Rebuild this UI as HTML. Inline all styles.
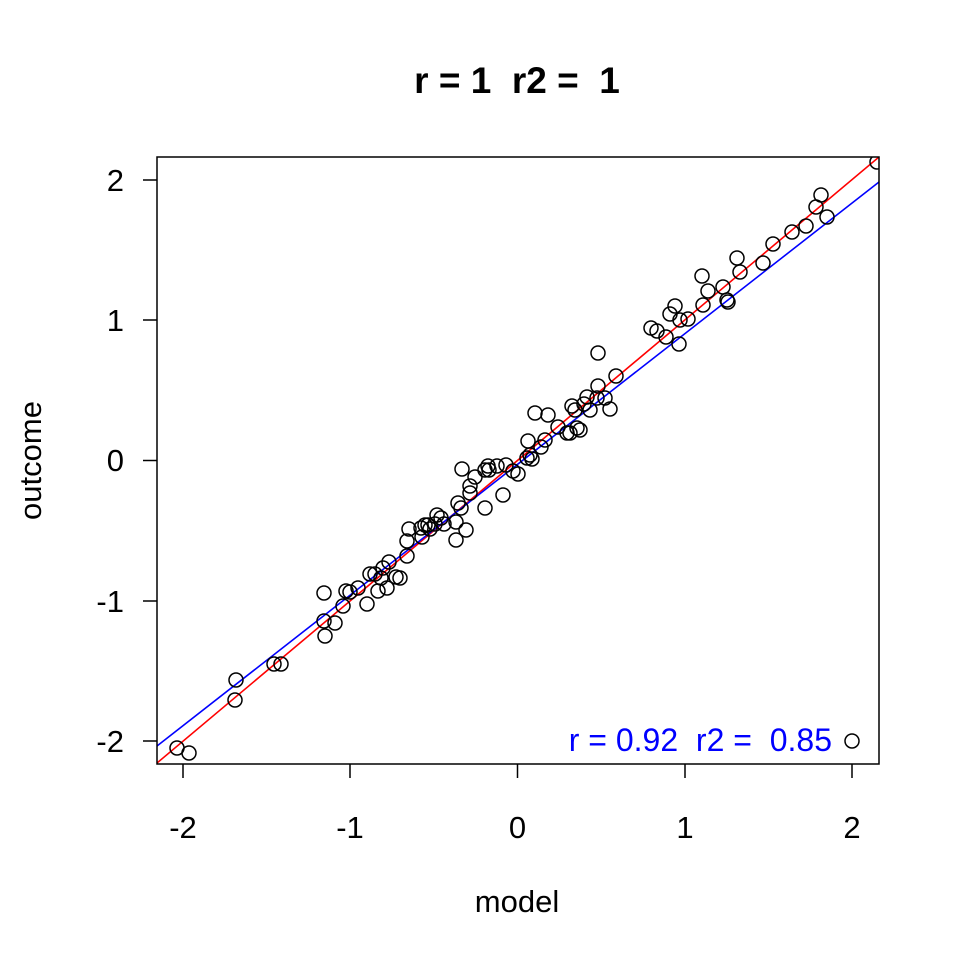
<!DOCTYPE html>
<html><head><style>body{margin:0;background:#fff}text{white-space:pre}</style></head><body>
<svg width="960" height="960" xmlns="http://www.w3.org/2000/svg" font-family="Liberation Sans, Arial, sans-serif" xml:space="preserve">
<rect width="960" height="960" fill="#fff"/>
<text x="517" y="93" text-anchor="middle" font-size="37" font-weight="bold">r = 1  r2 =  1</text>
<defs><clipPath id="c"><rect x="157" y="157" width="722" height="607"/></clipPath></defs>
<g clip-path="url(#c)">
<line x1="157" y1="763" x2="879" y2="157" stroke="#f00" stroke-width="1.6"/>
<line x1="157" y1="746" x2="879" y2="182" stroke="#00f" stroke-width="1.6"/>
<g fill="none" stroke="#000" stroke-width="1.5" id="pts"></g>
</g>
<rect x="157" y="157" width="722" height="607" fill="none" stroke="#000" stroke-width="1.5"/>
<g stroke="#000" stroke-width="1.5">
<line x1="183" y1="764" x2="183" y2="778"/><line x1="350" y1="764" x2="350" y2="778"/><line x1="517.5" y1="764" x2="517.5" y2="778"/><line x1="685" y1="764" x2="685" y2="778"/><line x1="852" y1="764" x2="852" y2="778"/>
<line x1="143" y1="180" x2="157" y2="180"/><line x1="143" y1="320" x2="157" y2="320"/><line x1="143" y1="460.5" x2="157" y2="460.5"/><line x1="143" y1="601" x2="157" y2="601"/><line x1="143" y1="741" x2="157" y2="741"/>
</g>
<g font-size="31" text-anchor="middle">
<text x="183" y="838">-2</text><text x="350" y="838">-1</text><text x="517.5" y="838">0</text><text x="685" y="838">1</text><text x="852" y="838">2</text>
<text x="517" y="912">model</text>
<g text-anchor="end"><text x="124" y="191">2</text><text x="124" y="331">1</text><text x="124" y="471">0</text><text x="124" y="612">-1</text><text x="124" y="752">-2</text></g>
<text transform="translate(41,460.5) rotate(-90)">outcome</text>
</g>
<text x="832" y="751" text-anchor="end" font-size="32" fill="#00f">r = 0.92  r2 =  0.85</text>
<circle cx="852" cy="741" r="7" fill="none" stroke="#000" stroke-width="1.5"/>
</svg>
<script>
var p=[[877,162],[821,195],[816,207],[827,217],[806,226],[792,232],[773,244],[763,263],[737,258],[740,272],[702,276],[708,291],[723,287],[727,300],[703,305],[728,302],[675,306],[670,314],[688,319],[680,320],[651,328],[657,331],[666,337],[679,344],[598,353],[616,376],[587,397],[597,398],[584,404],[590,410],[572,406],[575,410],[605,398],[610,409],[598,386],[548,415],[535,413],[558,427],[567,433],[570,433],[580,430],[577,428],[545,440],[541,447],[528,441],[530,455],[527,458],[532,459],[518,474],[513,471],[506,465],[497,466],[488,466],[485,470],[462,469],[489,470],[475,477],[470,486],[470,493],[503,495],[458,503],[461,508],[485,508],[437,515],[441,518],[456,522],[444,524],[421,528],[425,525],[435,524],[428,525],[409,529],[430,529],[466,530],[456,540],[422,537],[407,541],[407,556],[389,562],[383,568],[396,577],[375,574],[381,578],[370,574],[400,578],[387,588],[378,591],[358,588],[367,604],[350,592],[346,591],[343,606],[324,593],[324,621],[335,623],[325,636],[236,680],[274,664],[281,664],[235,700],[177,748],[189,753]];
var g=document.getElementById('pts'),s='';
p.forEach(function(a){s+='<circle cx="'+a[0]+'" cy="'+a[1]+'" r="7"/>';});
g.innerHTML=s;
</script>
</body></html>
